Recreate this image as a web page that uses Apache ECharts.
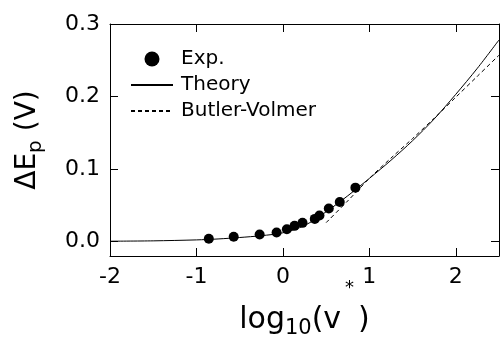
<!DOCTYPE html>
<html>
<head>
<meta charset="utf-8">
<script src="https://cdn.jsdelivr.net/npm/echarts@6/dist/echarts.min.js"></script>
<style>
  html, body { margin: 0; padding: 0; background: #fff; }
  #chart { width: 500px; height: 337px; }
</style>
</head>
<body>
<div id="chart"></div>
<script>
const FONT = "DejaVu Sans";

// measured points
const expX = [-0.857, -0.569, -0.269, -0.073, 0.046, 0.135, 0.227, 0.369, 0.423, 0.531, 0.658, 0.839];
const expY = [0.0037, 0.0065, 0.0096, 0.0124, 0.0169, 0.0216, 0.0257, 0.0312, 0.0358, 0.0454, 0.0546, 0.0743];

// theory curve
const theoryX = [-2, -1.5, -1, -0.75, -0.5, -0.25, 0, 0.25, 0.5, 0.75, 1, 1.25, 1.5, 1.75, 2, 2.25, 2.5];
const theoryY = [0.0004, 0.0009, 0.0022, 0.0035, 0.0055, 0.008, 0.012, 0.022, 0.041, 0.063, 0.087, 0.112, 0.139, 0.169, 0.203, 0.239, 0.278];

// Butler-Volmer curve
const bvX = [0.5, 0.75, 1, 1.25, 1.5, 1.75, 2, 2.25, 2.5];
const bvY = [0.026, 0.056, 0.087, 0.115, 0.142, 0.17, 0.199, 0.228, 0.257];

const xTicks = [-2, -1, 0, 1, 2];
const yTicks = [0, 0.1, 0.2, 0.3];

const zip = (xs, ys) => xs.map((x, i) => [x, ys[i]]);

const chart = echarts.init(document.getElementById("chart"));

const axisLine = { show: true, onZero: false, lineStyle: { color: "#000", width: 1 } };
// no lineStyle on ticks: they disappeared whenever one was given
const xTick = { show: true, inside: true, length: 8 };
const yTick = { show: true, inside: true, length: 8, customValues: yTicks };
const noSplit = { show: true, lineStyle: { color: "rgba(0,0,0,0)" } };
const hideSymbol = { color: "rgba(0,0,0,0)", borderWidth: 0 };

const option = {
  backgroundColor: "#fff",
  animation: false,
  grid: { left: 110, right: 1, top: 24, bottom: 81, outerBoundsMode: "none", containLabel: false },
  legend: {
    orient: "vertical",
    left: 125,
    top: 44,
    itemWidth: 42,
    itemHeight: 15,
    itemGap: 6,
    textStyle: { fontFamily: FONT, fontSize: 20, color: "#000", padding: [0, 0, 0, 3] },
    data: [
      { name: "Exp.", icon: "circle", itemStyle: { color: "#000", opacity: 1 } },
      { name: "Theory", itemStyle: hideSymbol },
      { name: "Butler-Volmer", itemStyle: hideSymbol },
    ],
  },
  xAxis: [
    {
      type: "value",
      position: "bottom",
      min: -2,
      max: 2.5,
      interval: 1,
      axisLine: axisLine,
      axisTick: xTick,
      axisLabel: {
        customValues: xTicks,
        margin: 10,
        fontFamily: FONT,
        fontSize: 22,
        color: "#000",
      },
      splitLine: noSplit,
      name: "{m|log}{s|10}{m|(v}{u|*}{m|)}",
      nameLocation: "middle",
      nameGap: 23,
      nameMoveOverlap: false,
      nameTextStyle: {
        rich: {
          m: { fontFamily: FONT, fontSize: 30, color: "#000", lineHeight: 32 },
          s: { fontFamily: FONT, fontSize: 21, color: "#000", padding: [18, 0, 0, 0] },
          u: { fontFamily: FONT, fontSize: 18, color: "#000", verticalAlign: "top", padding: [0, 4, 64, 4] },
        },
      },
    },
    {
      type: "value",
      position: "top",
      min: -2,
      max: 2.5,
      interval: 1,
      axisLine: axisLine,
      axisTick: xTick,
      axisLabel: { show: false },
      splitLine: noSplit,
    },
  ],
  yAxis: [
    {
      type: "value",
      position: "left",
      min: -0.02,
      max: 0.3,
      axisLine: axisLine,
      axisTick: yTick,
      axisLabel: {
        customValues: yTicks,
        margin: 10,
        fontFamily: FONT,
        fontSize: 22,
        color: "#000",
        formatter: (v) => v.toFixed(1),
      },
      splitLine: noSplit,
      name: "{m|ΔE}{s|p}{m| (V)}",
      nameLocation: "middle",
      nameGap: 64,
      nameTextStyle: {
        rich: {
          m: { fontFamily: FONT, fontSize: 28, color: "#000" },
          s: { fontFamily: FONT, fontSize: 20, color: "#000", padding: [16, 0, 0, 0] },
        },
      },
    },
    {
      type: "value",
      position: "right",
      min: -0.02,
      max: 0.3,
      axisLine: axisLine,
      axisTick: yTick,
      axisLabel: { show: false, customValues: yTicks },
      splitLine: noSplit,
    },
  ],
  series: [
    {
      name: "Theory",
      type: "line",
      data: zip(theoryX, theoryY),
      smooth: 0.3,
      symbol: "none",
      lineStyle: { color: "#000", width: 1 },
      itemStyle: { color: "#000" },
      z: 2,
    },
    {
      name: "Butler-Volmer",
      type: "line",
      data: zip(bvX, bvY),
      smooth: 0.3,
      symbol: "none",
      lineStyle: { color: "#000", width: 1, type: [4, 3] },
      itemStyle: { color: "#000" },
      z: 2,
    },
    {
      name: "Exp.",
      type: "scatter",
      data: zip(expX, expY),
      symbol: "circle",
      symbolSize: 10,
      itemStyle: { color: "#000", opacity: 1 },
      z: 3,
    },
  ],
};

chart.setOption(option);
</script>
</body>
</html>
